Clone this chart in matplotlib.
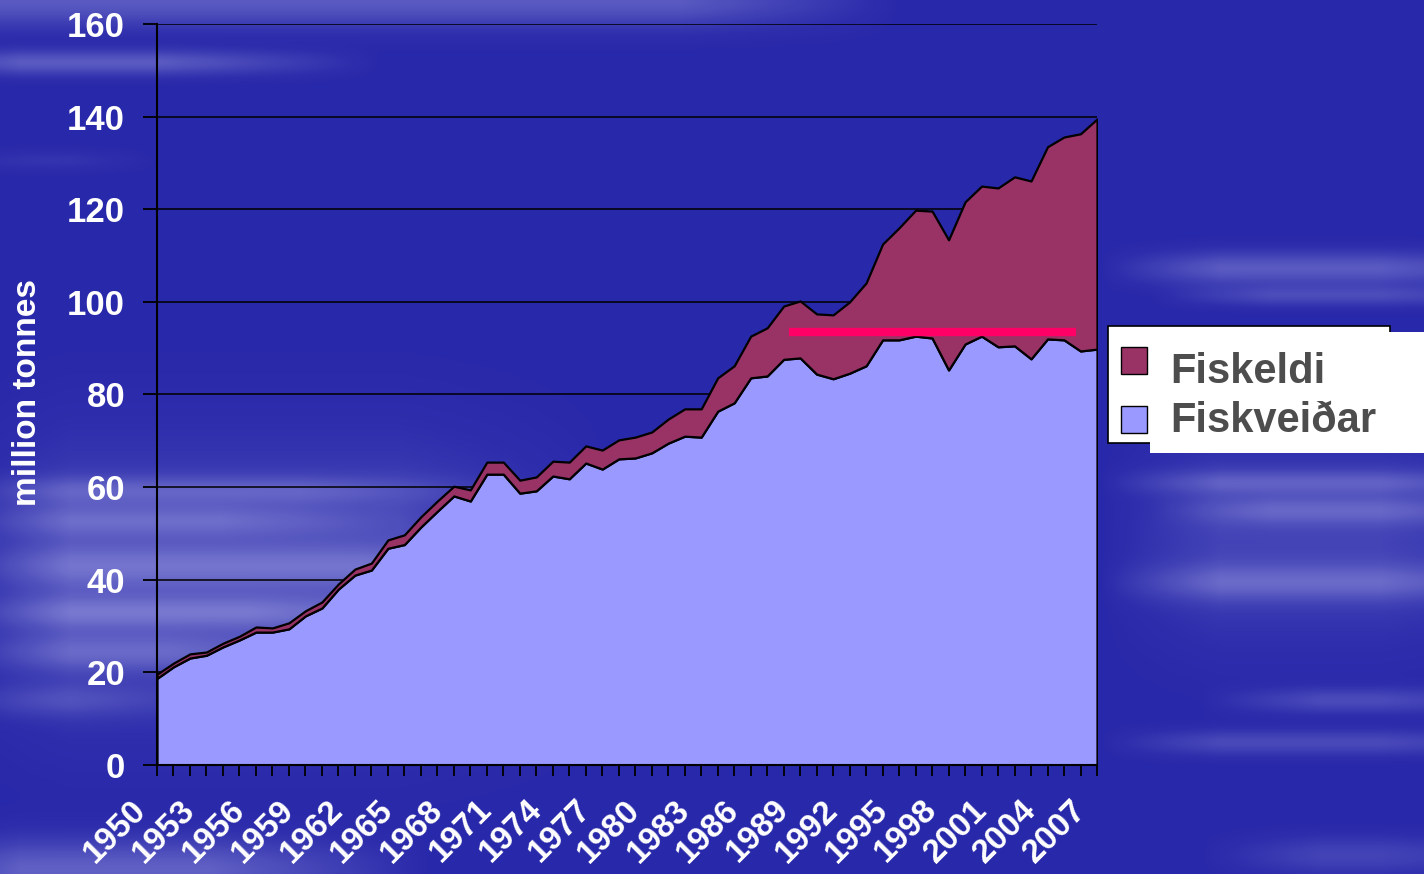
import numpy as np
import matplotlib
matplotlib.use("Agg")
import matplotlib.pyplot as plt
from matplotlib.patches import Rectangle
from matplotlib.transforms import ScaledTranslation

# data (million tonnes)
years = list(range(1950, 2008))
fiskveidar = [18.7, 21.2, 23.1, 23.7, 25.5, 27.0, 28.7, 28.7, 29.4, 32.2,
              33.9, 38.0, 41.0, 42.1, 46.8, 47.6, 51.4, 54.8, 58.1, 57.0,
              62.8, 62.8, 58.7, 59.2, 62.4, 61.8, 65.2, 63.9, 66.1, 66.3,
              67.4, 69.5, 71.0, 70.8, 76.4, 78.2, 83.6, 84.0, 87.6, 87.9,
              84.4, 83.4, 84.6, 86.2, 91.8, 91.8, 92.6, 92.2, 85.3, 90.9,
              92.6, 90.3, 90.5, 87.7, 92.0, 91.8, 89.4, 89.8]
fiskeldi = [0.9, 0.8, 0.9, 0.7, 0.8, 0.8, 1.1, 0.9, 1.3, 1.1,
            1.3, 1.1, 1.3, 1.5, 1.8, 2.1, 2.2, 2.2, 2.1, 2.4,
            2.6, 2.6, 2.8, 3.0, 3.2, 3.6, 3.7, 4.1, 4.1, 4.5,
            4.5, 5.2, 5.9, 6.1, 7.2, 8.0, 9.0, 10.4, 11.5, 12.3,
            13.0, 13.8, 15.4, 17.9, 20.7, 24.2, 27.2, 27.4, 28.1, 30.7,
            32.4, 34.3, 36.5, 38.4, 41.5, 43.8, 46.9, 49.7]
peak_line = (1988.3, 2005.7, 93.5)   # pink marker line: x start, x end, level
yticks = list(range(0, 161, 20))
labels = ["Fiskeldi", "Fiskveiðar"]

C_CAPT = "#9999FF"
C_AQUA = "#993366"
C_PINK = "#FF0066"
FONT = "Liberation Sans"

W, H = 1424, 874


def background():
    yy, xx = np.mgrid[0:H, 0:W].astype(float)
    base = np.array([40, 40, 170]) / 255.0
    light = np.array([150, 150, 222]) / 255.0
    # (y centre, spread, x start, x end, strength) of the soft light clouds
    bands = [(0, 25, -200, 900, 0.45), (62, 12, -100, 380, 0.45),
             (160, 10, -50, 160, 0.25),
             (580, 120, -50, 620, 0.35),
             (490, 14, -50, 520, 0.35), (520, 16, -50, 440, 0.35),
             (565, 20, -50, 580, 0.35), (612, 16, -50, 470, 0.4),
             (652, 18, -50, 390, 0.35), (700, 16, -50, 230, 0.35),
             (870, 30, -100, 430, 0.5),
             (268, 16, 1100, 1600, 0.45), (295, 10, 1150, 1600, 0.3),
             (540, 90, 1100, 1600, 0.25),
             (482, 12, 1100, 1600, 0.35), (510, 14, 1150, 1600, 0.35),
             (582, 18, 1100, 1600, 0.4), (700, 12, 1200, 1600, 0.3),
             (742, 12, 1100, 1600, 0.3), (855, 18, 1200, 1600, 0.25)]
    inten = np.zeros((H, W))
    for yc, sig, x0, x1, s in bands:
        gy = np.exp(-((yy - yc) / sig) ** 2)
        gx = np.clip((xx - x0) / 120.0, 0, 1) * np.clip((x1 - xx) / 220.0, 0, 1)
        inten += s * gy * gx
    inten = np.clip(inten, 0, 1)[..., None]
    return base + (light - base) * inten


def fx(x):
    return x / W


def fy(y):
    return 1 - y / H


def main():
    fig = plt.figure(figsize=(W / 100, H / 100), dpi=100)
    bg = fig.add_axes([0, 0, 1, 1], zorder=-5)
    bg.imshow(background(), aspect="auto", extent=(0, 1, 0, 1))
    bg.axis("off")

    ax = fig.add_axes([fx(157), fy(765), fx(1097) - fx(157), (765 - 24) / H])
    ax.set_facecolor("none")

    ax.stackplot(years, fiskveidar, fiskeldi, colors=[C_CAPT, C_AQUA],
                 edgecolor="black", linewidth=1.6, zorder=2)
    ax.plot([peak_line[0], peak_line[1]], [peak_line[2], peak_line[2]],
            color=C_PINK, lw=6, solid_capstyle="butt", zorder=3)

    ax.set_xlim(years[0], years[-1])
    ax.set_ylim(0, 160)
    ax.set_yticks(yticks)
    ax.grid(axis="y", color="black", lw=1.1, zorder=1)
    ax.set_axisbelow(True)
    for s in ["top", "right"]:
        ax.spines[s].set_visible(False)
    for s in ["left", "bottom"]:
        ax.spines[s].set_linewidth(1.5)
        ax.spines[s].set_zorder(4)

    ax.set_xticks(years)
    ax.set_xticklabels([str(y) if (y - 1950) % 3 == 0 else "" for y in years])
    ax.tick_params(axis="x", length=8, width=1.3, pad=13, direction="out")
    ax.tick_params(axis="y", length=10, width=1.3, pad=13, direction="out")
    for lab in ax.get_xticklabels():
        lab.set_rotation(45)
        lab.set_ha("right")
        lab.set_va("top")
        lab.set_rotation_mode("anchor")
        lab.set_fontsize(24)
        lab.set_fontweight("bold")
        lab.set_color("white")
        lab.set_fontfamily(FONT)
        lab.set_transform(lab.get_transform() +
                          ScaledTranslation(-0.27, 0, fig.dpi_scale_trans))
    for lab in ax.get_yticklabels():
        lab.set_fontsize(25)
        lab.set_fontweight("bold")
        lab.set_color("white")
        lab.set_fontfamily(FONT)

    fig.text(fx(28), fy(393), "million tonnes", rotation=90, color="white",
             fontsize=24, fontweight="bold", family=FONT,
             ha="center", va="center")

    # legend box (with the odd white block overlapping it)
    fig.patches.append(Rectangle((fx(1108), fy(443)), fx(1390) - fx(1108),
                                 (443 - 326) / H, transform=fig.transFigure,
                                 facecolor="white", edgecolor="black", lw=1.2))
    fig.patches.append(Rectangle((fx(1150), fy(453)), fx(1424) - fx(1150),
                                 (453 - 332) / H, transform=fig.transFigure,
                                 facecolor="white", edgecolor="none"))
    for i, (lab, col) in enumerate(zip(labels, [C_AQUA, C_CAPT])):
        ytop = 347 + i * 59
        fig.patches.append(Rectangle((fx(1121), fy(ytop + 27)), fx(26), 27 / H,
                                     transform=fig.transFigure, facecolor=col,
                                     edgecolor="black", lw=1.0, zorder=5))
        fig.text(fx(1170), fy(383 + i * 49), lab, color="#4d4d4d", fontsize=30,
                 fontweight="bold", family=FONT, ha="left", va="baseline",
                 zorder=6)

    fig.savefig("out.png", dpi=100)


if __name__ == "__main__":
    main()
